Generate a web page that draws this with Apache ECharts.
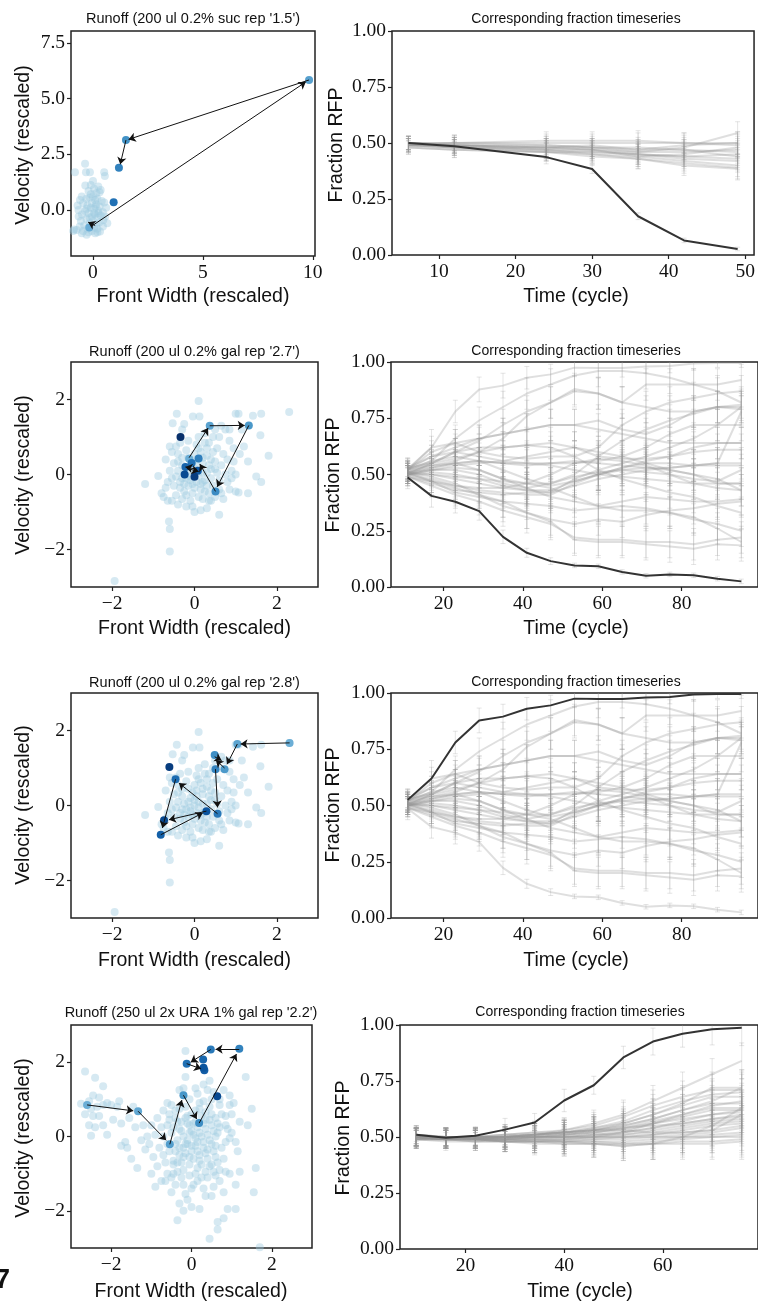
<!DOCTYPE html>
<html>
<head>
<meta charset="utf-8">
<script src="https://cdn.jsdelivr.net/npm/echarts@6/dist/echarts.min.js"></script>
<style>
html,body{margin:0;padding:0;background:#fff;}
#c{width:758px;height:1305px;}
</style>
</head>
<body>
<div id="c"></div>
<script>
// ---------------- DATA ----------------
// Row 1: sucrose run
const sucBg = [
[-0.82,1.69],[-0.36,2.08],[-0.32,1.69],[-0.14,1.69],[0.51,1.69],[0.54,1.52],[-0.1,1.12],[0.24,1.05],[0.05,0.95],[-0.2,0.85],[0.3,0.8],[-0.51,0.6],[-0.59,0.45],[0.51,0.33],[-0.66,0.0],[-0.65,-0.3],[-0.74,-0.9],[-0.86,-0.88],[-0.51,-1.05],[-0.29,-1.12],[0.32,-0.97],[0.47,-0.45],
[-0.3,0.5],[-0.15,0.55],[0.0,0.6],[0.1,0.45],[0.2,0.5],[-0.05,0.3],[0.15,0.25],[-0.25,0.2],[0.3,0.15],[-0.1,0.1],[0.05,0.05],[0.25,-0.05],[-0.35,-0.05],[-0.2,-0.15],[0.1,-0.2],[0.35,-0.25],[-0.05,-0.3],[0.2,-0.35],[-0.3,-0.4],[0.0,-0.5],[0.3,-0.55],[-0.15,-0.6],[0.15,-0.65],[-0.4,-0.7],[0.05,-0.8],[-0.25,-0.85],[0.2,-0.85],[-0.05,-0.95],[-0.45,-0.95],[0.1,-1.05],[-0.6,-0.75],[0.45,-0.75],[0.55,-0.3],[0.4,0.4],[-0.45,0.3],[-0.5,-0.2],[0.6,0.1],[-0.9,-0.95],[-0.7,0.2],[0.35,0.9],[-0.35,1.1],[0.0,1.3],[0.15,0.75],[-0.1,0.7],[0.25,-0.15],[-0.15,-0.35],[0.45,-0.1],[0.05,-0.15],[-0.3,0.05],[0.12,0.15],[-0.55,-0.5],[0.2,-1.0],[-0.2,-1.0],[0.65,-0.6]
];
const sucTraj = [[-0.17,-0.79],[9.83,5.84],[1.5,3.14],[1.18,1.9],[0.94,0.34]];
const sucArrows = [[-0.05,-0.72,9.68,5.75],[9.83,5.84,1.62,3.17],[1.5,3.14,1.24,2.05],[0.1,-0.7,-0.22,-0.55]];
const sucTimes = [6,12,24,30,36,42,49];
const sucDark = [0.50,0.485,0.437,0.384,0.173,0.065,0.027];
const sucDarkErr = [0.03,0.03,0.03,0.02,0.015,0.01,0.008];
const sucGray = [
[0.50,0.49,0.48,0.48,0.47,0.47,0.46],
[0.49,0.48,0.47,0.46,0.45,0.44,0.43],
[0.50,0.50,0.50,0.50,0.50,0.50,0.50],
[0.49,0.49,0.49,0.48,0.46,0.46,0.47],
[0.48,0.47,0.46,0.45,0.44,0.42,0.40],
[0.50,0.49,0.48,0.47,0.44,0.45,0.48],
[0.49,0.48,0.46,0.44,0.43,0.40,0.385],
[0.50,0.50,0.51,0.51,0.51,0.50,0.49],
[0.49,0.48,0.48,0.47,0.46,0.48,0.545],
[0.50,0.49,0.47,0.47,0.45,0.44,0.45],
[0.48,0.47,0.46,0.46,0.45,0.43,0.42],
[0.49,0.49,0.48,0.49,0.47,0.49,0.50],
[0.50,0.48,0.47,0.45,0.43,0.41,0.39],
[0.49,0.50,0.49,0.48,0.48,0.47,0.44]
];
const sucGrayErr = [0.03,0.035,0.04,0.04,0.045,0.045,0.05];

// Rows 2 & 3: galactose run (shared ensemble)
const galBg = [
[-1.94,-2.84],[2.3,1.67],[0.1,1.96],[-0.43,1.62],[-0.53,1.37],[-0.04,1.55],[0.12,1.55],[1.0,1.62],[1.07,1.62],[1.42,1.57],[1.62,1.62],[0.65,1.3],[0.75,1.2],[0.85,1.2],[1.6,1.05],[1.8,0.5],[1.3,0.35],[1.1,0.55],[1.2,0.75],[0.95,0.7],[-1.2,-0.25],[-0.6,-1.45],[-0.62,-1.25],[-0.6,-2.05],[0.6,-1.07],[1.5,-0.05],[1.62,-0.2],[1.0,-0.45],[1.07,-0.48],[1.0,0.0],[-0.88,-0.04],[-0.65,-0.7],[-0.8,-0.5],[-0.7,-0.35],[-0.45,0.75],[-0.55,0.6],[-0.6,0.75],[-0.7,0.4],[-0.3,1.2],[0.25,1.1],[0.45,1.0],[0.55,0.7],[0.8,0.4],[0.9,0.1],[0.8,-0.2],[0.7,-0.65],[0.3,-0.9],[0.0,-1.0],[0.15,-0.95],[-0.2,-0.85],[-0.4,-0.8],[0.4,-0.7],[0.85,0.9],[0.6,1.0],[0.35,0.85],
[-0.5,0.3],[-0.4,0.1],[-0.35,-0.2],[-0.3,0.45],[-0.25,-0.45],[-0.2,0.65],[-0.15,-0.3],[-0.1,0.2],[-0.05,-0.5],[0.0,0.55],[0.05,-0.2],[0.1,0.1],[0.15,-0.4],[0.2,0.3],[0.25,-0.15],[0.3,0.5],[0.35,-0.5],[0.4,0.15],[0.45,-0.3],[0.5,0.35],[-0.45,-0.55],[-0.55,-0.1],[-0.6,0.1],[-0.15,0.9],[0.05,0.8],[0.2,-0.65],[-0.1,-0.7],[-0.3,-0.65],[0.3,-0.3],[0.55,0.05],[-0.25,0.05],[0.0,0.0],[-0.05,0.35],[0.15,0.6],[-0.4,0.55],[0.35,0.25],[-0.2,-0.1],[0.1,-0.6],[0.25,-0.45],[-0.35,-0.35],[0.45,0.6],[-0.5,-0.3],[0.6,-0.4],[0.65,0.25],[0.7,0.55],[-0.65,-0.2],[-0.1,-0.15],[0.05,0.4],[-0.3,0.25],[0.2,0.05],[-0.15,0.45],[0.4,-0.1],[0.0,-0.35],[-0.2,-0.55],[0.15,-0.25],[-0.45,-0.05],[0.3,0.7],[0.5,-0.6],[-0.05,-0.85],[0.25,0.85],[-0.35,0.85],[0.1,1.0],[0.4,0.4],[-0.25,-0.25],[0.6,-0.15],[0.75,0.0],[0.85,-0.4],[-0.75,-0.6],[-0.55,-0.7],[0.0,0.15],[-0.1,-0.05],[0.1,-0.05],[0.2,-0.2],[0.3,0.05],[-0.15,0.1],[-0.05,-0.25],[0.05,0.25],[0.2,0.45],[-0.3,-0.1],[0.35,-0.7],[0.1,0.7],[-0.4,0.35],[0.5,0.15],[0.65,-0.5],[0.95,0.35],[1.3,-0.5],[1.15,1.2],[0.5,1.2],[-0.25,1.35],[0.9,-0.1]
];
const galTraj27 = [[-0.13,0.42],[0.37,1.3],[1.32,1.31],[0.51,-0.45],[0.1,0.43],[-0.07,0.31],[-0.22,0.2],[0.08,0.1],[-0.24,0.0],[0.0,-0.06],[-0.34,1.0]];
const galArrows27 = [[-0.13,0.45,0.33,1.24],[0.37,1.3,1.22,1.31],[1.32,1.31,0.55,-0.33],[0.51,-0.45,0.13,0.28],[0.06,0.14,-0.22,0.2],[-0.18,0.16,0.1,0.08]];
const galTraj28 = [[2.31,1.67],[1.04,1.64],[0.73,0.97],[0.49,1.35],[0.51,0.97],[0.56,-0.22],[-0.46,0.7],[-0.82,-0.78],[0.29,-0.15],[-0.74,-0.39],[-0.61,1.03]];
const galArrows28 = [[2.31,1.67,1.12,1.64],[1.04,1.64,0.79,1.1],[0.73,1.0,0.52,1.21],[0.49,1.3,0.66,1.2],[0.51,0.97,0.56,-0.05],[0.56,-0.22,-0.38,0.6],[-0.46,0.7,-0.78,-0.6],[-0.82,-0.78,0.2,-0.2],[0.29,-0.15,-0.62,-0.38]];
const galTimes = [11,17,23,29,35,41,47,53,59,65,71,77,83,89,95];
const galDown = [0.487,0.405,0.379,0.337,0.223,0.152,0.115,0.096,0.092,0.067,0.05,0.056,0.052,0.037,0.025];
const galDownErr = [0.05,0.05,0.05,0.04,0.03,0.02,0.015,0.01,0.01,0.01,0.01,0.01,0.01,0.01,0.01];
const galUp = [0.525,0.62,0.78,0.878,0.895,0.93,0.945,0.975,0.973,0.973,0.98,0.982,0.993,0.996,0.996];
const galUpErr = [0.05,0.08,0.05,0.055,0.055,0.05,0.045,0.04,0.04,0.04,0.03,0.03,0.03,0.02,0.02];
const galGray = [
[0.52,0.56,0.66,0.74,0.80,0.86,0.90,0.94,0.96,0.96,0.95,0.93,0.90,0.87,0.82],
[0.51,0.55,0.60,0.65,0.72,0.78,0.82,0.88,0.86,0.82,0.90,0.90,0.90,0.90,0.92],
[0.53,0.58,0.62,0.66,0.68,0.70,0.72,0.72,0.74,0.70,0.68,0.72,0.78,0.80,0.80],
[0.50,0.55,0.60,0.62,0.62,0.63,0.64,0.62,0.58,0.57,0.57,0.58,0.62,0.64,0.64],
[0.52,0.62,0.64,0.60,0.58,0.57,0.58,0.58,0.62,0.72,0.78,0.82,0.84,0.86,0.87],
[0.51,0.53,0.55,0.56,0.55,0.54,0.55,0.55,0.56,0.58,0.62,0.68,0.72,0.72,0.72],
[0.50,0.50,0.48,0.46,0.44,0.43,0.43,0.47,0.50,0.52,0.53,0.53,0.54,0.54,0.54],
[0.50,0.48,0.45,0.43,0.42,0.41,0.41,0.46,0.50,0.53,0.55,0.55,0.54,0.55,0.55],
[0.49,0.46,0.43,0.42,0.41,0.42,0.42,0.48,0.52,0.55,0.58,0.62,0.66,0.72,0.80],
[0.52,0.54,0.55,0.56,0.55,0.55,0.54,0.52,0.50,0.49,0.48,0.47,0.46,0.46,0.46],
[0.50,0.52,0.53,0.52,0.48,0.44,0.40,0.38,0.36,0.38,0.40,0.39,0.38,0.38,0.39],
[0.51,0.47,0.42,0.40,0.38,0.37,0.36,0.34,0.35,0.36,0.35,0.33,0.31,0.26,0.20],
[0.49,0.45,0.41,0.38,0.34,0.31,0.28,0.22,0.21,0.21,0.20,0.20,0.19,0.21,0.22],
[0.50,0.47,0.44,0.41,0.36,0.33,0.30,0.28,0.30,0.29,0.32,0.34,0.35,0.37,0.38],
[0.51,0.49,0.46,0.41,0.38,0.33,0.29,0.21,0.20,0.20,0.19,0.18,0.17,0.19,0.185],
[0.52,0.58,0.60,0.58,0.56,0.55,0.55,0.56,0.55,0.54,0.53,0.52,0.50,0.48,0.43],
[0.51,0.54,0.56,0.60,0.62,0.63,0.62,0.58,0.52,0.48,0.45,0.42,0.40,0.36,0.33],
[0.50,0.52,0.52,0.50,0.46,0.44,0.46,0.50,0.58,0.65,0.70,0.74,0.77,0.80,0.81],
[0.52,0.56,0.58,0.56,0.52,0.48,0.45,0.47,0.50,0.53,0.56,0.58,0.60,0.61,0.61],
[0.50,0.51,0.50,0.48,0.45,0.43,0.42,0.45,0.48,0.50,0.52,0.53,0.54,0.55,0.78],
[0.51,0.50,0.49,0.48,0.47,0.46,0.46,0.49,0.51,0.52,0.51,0.50,0.48,0.47,0.52],
[0.49,0.47,0.45,0.44,0.44,0.46,0.50,0.55,0.57,0.56,0.54,0.50,0.46,0.44,0.43],
[0.52,0.60,0.64,0.66,0.68,0.70,0.72,0.72,0.70,0.68,0.66,0.64,0.64,0.64,0.64],
[0.53,0.55,0.57,0.60,0.66,0.76,0.82,0.87,0.86,0.82,0.80,0.78,0.78,0.80,0.79],
[0.50,0.53,0.55,0.52,0.48,0.46,0.44,0.40,0.36,0.34,0.34,0.33,0.30,0.28,0.25],
[0.51,0.52,0.54,0.55,0.56,0.58,0.60,0.62,0.60,0.58,0.55,0.52,0.50,0.46,0.46]
];
const galGrayErr = [0.04,0.05,0.06,0.06,0.07,0.07,0.07,0.07,0.07,0.07,0.07,0.07,0.07,0.07,0.07];

// Row 4: URA run
const uraBg = [
[-2.65,1.75],[-2.4,1.58],[-2.2,1.35],[-2.45,1.1],[-2.3,1.05],[-2.55,0.95],[-2.75,0.88],[-2.5,0.75],[-2.35,0.8],[-2.2,0.85],[-2.1,0.9],[-2.0,0.85],[-1.85,0.8],[-2.65,0.6],[-2.45,0.55],[-2.3,0.55],[-2.55,0.3],[-2.4,0.25],[-2.2,0.3],[-2.1,0.05],[-2.5,0.02],[-1.75,0.35],[-1.95,0.45],[-1.65,-0.15],[-1.75,-0.25],[-1.8,0.95],[-1.55,0.5],[-1.45,0.8],[-1.4,0.25],[-1.25,-0.1],[-1.5,-0.6],[-1.6,-0.3],[-1.35,-0.85],[-1.2,0.3],[-1.1,0.0],[-1.15,-0.35],[-1.0,0.3],[-0.95,-0.55],[-1.05,-0.2],[-0.85,0.5],[-0.9,0.05],[-0.8,-0.3],[-1.0,-1.0],[-0.85,-0.8],[-0.75,-1.2],[-0.9,-1.35],[-0.7,0.7],[-0.6,0.9],[-0.55,0.45],[-0.45,-0.65],[-0.6,-1.0],[-0.5,-1.5],[-0.4,-1.3],[-0.3,-1.8],[-0.35,-2.25],[-0.15,-1.55],[0.0,-1.4],
[-0.15,2.3],[-0.15,1.6],[0.45,1.5],[1.35,1.6],[0.3,1.4],[0.1,1.3],[-0.3,1.25],[0.55,1.2],[0.8,1.25],[0.95,1.1],[1.05,0.9],[1.5,0.75],[0.7,0.85],[-0.5,0.85],[-0.4,0.7],[0.2,0.9],[0.45,0.8],[0.85,0.55],[1.0,0.6],[1.4,0.3],[0.9,0.2],[1.1,-0.15],[0.95,-0.05],[1.15,-0.4],[1.2,-0.95],[1.55,-1.5],[1.6,-0.85],[0.95,-1.0],[1.1,-1.3],[0.8,-1.5],[0.9,-1.95],[1.1,-1.95],[0.8,-2.2],[0.65,-2.3],[0.65,-2.5],[0.45,-2.75],[1.7,-2.98],[0.2,-1.95],[0.0,-1.9],[-0.2,-2.0],[0.35,-1.6],[0.55,-1.35],[0.6,-1.05],[0.4,-1.1],[0.15,-1.2],[-0.05,-1.05],[-0.25,-1.1],[-0.2,-0.9],
[-0.6,0.3],[-0.5,0.1],[-0.4,-0.2],[-0.35,0.4],[-0.3,-0.5],[-0.25,0.15],[-0.2,-0.3],[-0.15,0.5],[-0.1,-0.1],[-0.05,0.3],[0.0,-0.4],[0.05,0.05],[0.1,-0.25],[0.15,0.25],[0.2,-0.5],[0.25,0.0],[0.3,-0.3],[0.35,0.2],[0.4,-0.6],[0.45,-0.1],[0.5,0.3],[0.55,-0.4],[0.6,0.0],[0.65,-0.7],[0.7,0.25],[0.75,-0.3],[-0.55,-0.4],[-0.45,-0.75],[-0.35,-0.1],[-0.25,-0.7],[-0.15,-0.45],[-0.05,-0.75],[0.05,-0.6],[0.15,-0.85],[0.25,-0.75],[0.35,-0.95],[0.45,-0.8],[0.55,-0.95],[-0.65,-0.7],[-0.7,0.0],[-0.75,0.25],[-0.55,0.6],[-0.4,0.5],[-0.3,0.75],[-0.15,0.8],[0.0,0.6],[0.1,0.7],[0.25,0.55],[0.35,0.65],[0.5,0.6],[0.6,0.5],[0.75,0.6],[0.85,0.3],[0.85,-0.15],[0.8,-0.6],[0.7,-0.9],[-0.2,0.0],[0.0,0.15],[0.2,0.1],[0.4,0.05],[-0.1,-0.2],[0.1,-0.05],[0.3,-0.15],[0.5,-0.2],[-0.3,0.2],[-0.1,0.35],[0.1,0.4],[0.3,0.35],[0.45,0.45],[0.15,-0.4],[0.35,-0.45],[-0.4,-0.4],[-0.2,-0.55],[0.0,-0.25],[0.6,-0.55],[0.55,0.15],[0.2,-0.65],[-0.05,-0.55],[-0.45,0.25],[0.65,0.35],[0.3,0.95],[0.5,1.0],[-0.05,1.0],[0.15,1.15],[-0.2,1.3],[0.4,1.25],[0.7,1.0],[0.95,0.85],[1.2,0.4],[1.0,0.1],[-0.65,-1.2],[-0.5,-1.1],[-0.35,-0.95],[0.05,-1.3],[0.3,-1.4],[0.5,-1.6],[-0.1,-1.7],[0.7,-1.2],[0.85,-0.95],
[-0.7,-0.5],[-0.6,-0.2],[-0.3,-0.3],[-0.1,0.55],[0.2,0.75],[0.4,-0.35],[0.65,0.1],[0.1,-1.0],[-0.2,-1.3],[0.25,-1.1],[-0.45,-1.0],[0.6,-0.25],[-0.05,0.1],[0.15,-0.15],[0.35,0.45],[-0.25,0.4],[0.05,0.35],[0.5,-0.75],[-0.15,-0.2],[-0.35,-0.7]
];
const uraTraj = [[-2.6,0.85],[-1.33,0.68],[-0.54,-0.21],[-0.2,1.11],[0.19,0.36],[1.19,2.36],[0.48,2.34],[-0.12,1.96],[0.29,2.07],[0.32,1.78],[0.3,1.85],[0.64,1.08]];
const uraArrows = [[-2.6,0.85,-1.45,0.69],[-1.33,0.68,-0.63,-0.1],[-0.54,-0.21,-0.24,0.98],[-0.2,1.11,0.13,0.47],[0.19,0.36,1.12,2.22],[1.19,2.36,0.6,2.35],[0.48,2.34,-0.02,2.0],[-0.12,1.96,0.24,1.82]];
const uraTimes = [10,16,22,28,34,40,46,52,58,64,70,76];
const uraDark = [0.51,0.497,0.506,0.533,0.565,0.663,0.731,0.855,0.926,0.961,0.981,0.988];
const uraDarkErr = [0.03,0.04,0.04,0.05,0.04,0.05,0.04,0.05,0.06,0.06,0.07,0.08];
const uraGray = [
[0.50,0.49,0.49,0.50,0.51,0.53,0.56,0.60,0.66,0.72,0.78,0.84],
[0.50,0.50,0.50,0.51,0.52,0.53,0.55,0.59,0.64,0.68,0.71,0.71],
[0.49,0.49,0.50,0.50,0.51,0.52,0.54,0.57,0.62,0.66,0.69,0.70],
[0.51,0.50,0.50,0.51,0.51,0.52,0.53,0.56,0.60,0.64,0.68,0.68],
[0.50,0.49,0.49,0.50,0.50,0.51,0.53,0.55,0.58,0.62,0.65,0.65],
[0.49,0.50,0.50,0.49,0.50,0.51,0.52,0.54,0.57,0.60,0.63,0.63],
[0.50,0.50,0.49,0.50,0.51,0.51,0.52,0.53,0.56,0.59,0.62,0.62],
[0.51,0.49,0.50,0.50,0.50,0.50,0.51,0.52,0.54,0.57,0.60,0.61],
[0.50,0.49,0.49,0.49,0.50,0.50,0.51,0.52,0.54,0.56,0.58,0.59],
[0.49,0.49,0.48,0.49,0.49,0.50,0.50,0.51,0.53,0.55,0.57,0.58],
[0.50,0.50,0.50,0.50,0.50,0.50,0.51,0.51,0.52,0.54,0.56,0.57],
[0.50,0.49,0.49,0.49,0.49,0.49,0.50,0.50,0.51,0.53,0.55,0.56],
[0.49,0.49,0.49,0.48,0.49,0.49,0.49,0.50,0.51,0.52,0.53,0.55],
[0.50,0.50,0.49,0.49,0.49,0.48,0.49,0.49,0.50,0.51,0.52,0.54],
[0.50,0.49,0.49,0.49,0.48,0.48,0.48,0.48,0.49,0.50,0.51,0.52],
[0.49,0.49,0.48,0.48,0.48,0.48,0.48,0.47,0.48,0.49,0.50,0.51],
[0.50,0.49,0.49,0.48,0.48,0.47,0.47,0.47,0.47,0.48,0.48,0.49],
[0.50,0.50,0.49,0.48,0.47,0.47,0.47,0.46,0.47,0.47,0.47,0.48],
[0.51,0.50,0.50,0.50,0.51,0.52,0.53,0.54,0.55,0.56,0.58,0.60],
[0.50,0.50,0.50,0.50,0.51,0.52,0.53,0.55,0.58,0.62,0.66,0.72],
[0.50,0.49,0.50,0.51,0.52,0.52,0.53,0.53,0.52,0.52,0.53,0.60],
[0.49,0.49,0.49,0.48,0.48,0.48,0.47,0.46,0.47,0.50,0.55,0.63],
[0.50,0.50,0.50,0.50,0.50,0.51,0.52,0.54,0.56,0.58,0.60,0.62],
[0.51,0.50,0.50,0.50,0.51,0.52,0.54,0.56,0.60,0.65,0.72,0.72],
[0.50,0.50,0.49,0.49,0.50,0.50,0.50,0.50,0.50,0.50,0.50,0.50],
[0.49,0.48,0.48,0.48,0.48,0.49,0.50,0.52,0.56,0.60,0.64,0.66]
];
const uraGrayErr = [0.04,0.04,0.04,0.045,0.05,0.055,0.06,0.065,0.07,0.07,0.07,0.08];

// Tick values
const sucXTicks = [0,5,10], sucYTicks = [0,2.5,5,7.5];
const stdTicks = [-2,0,2];
const fracTicks = [0,0.25,0.5,0.75,1];
const sucTimeTicks = [10,20,30,40,50];
const galTimeTicks = [20,40,60,80];
const uraTimeTicks = [20,40,60];

// Text
const titles = ["Runoff (200 ul 0.2% suc rep '1.5')","Runoff (200 ul 0.2% gal rep '2.7')","Runoff (200 ul 0.2% gal rep '2.8')","Runoff (250 ul 2x URA 1% gal rep '2.2')"];
const tsTitle = "Corresponding fraction timeseries";

// ---------------- RENDER ----------------
const SERIF = "'Liberation Serif','DejaVu Serif',serif";
const SANS = "'Liberation Sans','DejaVu Sans',sans-serif";
const grids = [
  {left:71, top:31, width:244, height:225},
  {left:392, top:31, width:367, height:224},
  {left:71, top:362, width:247, height:225},
  {left:391, top:362, width:369, height:225},
  {left:71, top:693, width:247, height:225},
  {left:391, top:693, width:369, height:225},
  {left:71, top:1025, width:241, height:223},
  {left:400, top:1025, width:359, height:224}
].map(g => Object.assign({show:true, borderColor:'#222', borderWidth:1.5, backgroundColor:'transparent'}, g));

const minus = s => s.replace('-', '\u2212');
const fmt0 = v => minus(String(Math.round(v)));
const fmt1 = v => minus(v.toFixed(1));
const fmt2 = v => v.toFixed(2);

function axis(gi, min, max, ticks, fmt) {
  return {
    type:'value', gridIndex:gi, min, max,
    axisLine:{show:false, onZero:false}, splitLine:{show:false},
    axisTick:{show:true, customValues:ticks, length:4, inside:false, lineStyle:{color:'#222', width:1.2}},
    axisLabel:{customValues:ticks, formatter:fmt, margin:7, fontFamily:SERIF, fontSize:19.5, color:'#111'}
  };
}
const xAxes = [
  axis(0,-1.0,10.1,sucXTicks,fmt0),
  axis(1,3.85,51.15,sucTimeTicks,fmt0),
  axis(2,-3,3,stdTicks,fmt0),
  axis(3,6.8,99.2,galTimeTicks,fmt0),
  axis(4,-3,3,stdTicks,fmt0),
  axis(5,6.8,99.2,galTimeTicks,fmt0),
  axis(6,-3,3,stdTicks,fmt0),
  axis(7,6.7,79.3,uraTimeTicks,fmt0)
];
const yAxes = [
  axis(0,-2.07,8.04,sucYTicks,fmt1),
  axis(1,0,1,fracTicks,fmt2),
  axis(2,-3,3,stdTicks,fmt0),
  axis(3,0,1,fracTicks,fmt2),
  axis(4,-3,3,stdTicks,fmt0),
  axis(5,0,1,fracTicks,fmt2),
  axis(6,-3,3,stdTicks,fmt0),
  axis(7,0,1,fracTicks,fmt2)
];
yAxes.forEach(a => { a.axisLabel.margin = 6; });

// Blues colormap
const bluesStops = ['#f7fbff','#deebf7','#c6dbef','#9ecae1','#6baed6','#4292c6','#2171b5','#08519c','#08306b'];
function hex2rgb(h){return [parseInt(h.slice(1,3),16),parseInt(h.slice(3,5),16),parseInt(h.slice(5,7),16)];}
function blues(f){
  const p = f*(bluesStops.length-1); const i = Math.min(Math.floor(p), bluesStops.length-2); const t = p-i;
  const a = hex2rgb(bluesStops[i]), b = hex2rgb(bluesStops[i+1]);
  return 'rgb(' + a.map((v,k)=>Math.round(v+(b[k]-v)*t)).join(',') + ')';
}

const series = [];
function scatterPanel(gi, bg, traj, arrows, f0, f1) {
  series.push({type:'scatter', xAxisIndex:gi, yAxisIndex:gi, data:bg, symbolSize:8,
    itemStyle:{color:'#9ecae1', opacity:0.42}, silent:true, z:2});
  series.push({type:'scatter', xAxisIndex:gi, yAxisIndex:gi, symbolSize:8, silent:true, z:3,
    data: traj.map((p,i)=>({value:p, itemStyle:{color:blues(f0+(f1-f0)*i/(traj.length-1)), opacity:1}}))});
  series.push({type:'lines', coordinateSystem:'cartesian2d', xAxisIndex:gi, yAxisIndex:gi, silent:true, z:4,
    symbol:['none','arrow'], symbolSize:7,
    lineStyle:{color:'#111', width:1, opacity:1},
    data: arrows.map(a=>({coords:[[a[0],a[1]],[a[2],a[3]]]}))});
}
const GRAY = 'rgba(150,150,150,0.3)';
const ERRGRAY = 'rgba(150,150,150,0.25)';
function errSeries(gi, items, z) {
  return {type:'custom', xAxisIndex:gi, yAxisIndex:gi, clip:true, silent:true, z:z,
    renderItem:(params, api)=>{
      const x=api.value(0), lo=api.value(1), hi=api.value(2);
      const a=api.coord([x,lo]), b=api.coord([x,hi]); const c=2.5;
      const st={stroke:ERRGRAY, lineWidth:1};
      return {type:'group', children:[
        {type:'line', shape:{x1:a[0],y1:a[1],x2:b[0],y2:b[1]}, style:st},
        {type:'line', shape:{x1:a[0]-c,y1:a[1],x2:a[0]+c,y2:a[1]}, style:st},
        {type:'line', shape:{x1:b[0]-c,y1:b[1],x2:b[0]+c,y2:b[1]}, style:st}
      ]};
    },
    encode:{x:0, y:[1,2]}, data:items};
}
function tsPanel(gi, times, grayLines, grayErr, extraGray, dark, darkErr) {
  const errItems = [];
  const all = grayLines.map(v=>({v, e:grayErr})).concat(extraGray);
  all.forEach(L => {
    series.push({type:'line', xAxisIndex:gi, yAxisIndex:gi, data:times.map((t,i)=>[t,L.v[i]]),
      symbol:'none', silent:true, z:3, lineStyle:{color:GRAY, width:2}});
    times.forEach((t,i)=>errItems.push([t, L.v[i]-L.e[i], L.v[i]+L.e[i]]));
  });
  times.forEach((t,i)=>errItems.push([t, dark[i]-darkErr[i], dark[i]+darkErr[i]]));
  series.push(errSeries(gi, errItems, 2));
  series.push({type:'line', xAxisIndex:gi, yAxisIndex:gi, data:times.map((t,i)=>[t,dark[i]]),
    symbol:'none', silent:true, z:6, lineStyle:{color:'#333', width:2}});
}

scatterPanel(0, sucBg, sucTraj, sucArrows, 0.5, 0.75);
tsPanel(1, sucTimes, sucGray, sucGrayErr, [], sucDark, sucDarkErr);
scatterPanel(2, galBg, galTraj27, galArrows27, 0.5, 1.0);
tsPanel(3, galTimes, galGray, galGrayErr, [{v:galUp, e:galUpErr}], galDown, galDownErr);
scatterPanel(4, galBg, galTraj28, galArrows28, 0.5, 0.95);
tsPanel(5, galTimes, galGray, galGrayErr, [{v:galDown, e:galDownErr}], galUp, galUpErr);
scatterPanel(6, uraBg, uraTraj, uraArrows, 0.5, 0.9);
tsPanel(7, uraTimes, uraGray, uraGrayErr, [], uraDark, uraDarkErr);

// Text layout
const rowTitleY = [19, 351.5, 682.5, 1012.5];
const rowXLabelY = [297, 629, 961, 1292];
const rowYLabelY = [145, 475, 805, 1138];
const scatterCx = [193, 194.5, 194.5, 191];
const tsCx = [576, 576, 576, 580];
const tsYLabelX = [336.5, 333.5, 333.5, 343.5];
const graphics = [];
function txt(x, y, text, size, rot, extra) {
  return Object.assign({type:'text', x, y, rotation: rot||0, silent:true,
    style:{text, fontFamily:SANS, fontSize:size, fill:'#111', align:'center', verticalAlign:'middle'}}, extra||{});
}
for (let r=0;r<4;r++){
  graphics.push(txt(scatterCx[r], rowTitleY[r], titles[r], 14.5));
  graphics.push(txt(tsCx[r], rowTitleY[r], tsTitle, 14));
  graphics.push(txt(scatterCx[r], rowXLabelY[r], 'Front Width (rescaled)', 19.5));
  graphics.push(txt(tsCx[r], rowXLabelY[r], 'Time (cycle)', 19.5));
  graphics.push(txt(23.5, rowYLabelY[r], 'Velocity (rescaled)', 19.5, Math.PI/2));
  graphics.push(txt(tsYLabelX[r], rowYLabelY[r], 'Fraction RFP', 19.5, Math.PI/2));
}
graphics.push({type:'text', x:10, y:1281, silent:true, style:{text:'7', fontFamily:SANS, fontSize:27, fontWeight:'bold', fill:'#111', align:'right', verticalAlign:'middle'}});

const chart = echarts.init(document.getElementById('c'), null, {renderer:'canvas'});
chart.setOption({
  animation:false, backgroundColor:'#fff',
  grid:grids, xAxis:xAxes, yAxis:yAxes, series, graphic:graphics
});
</script>
</body>
</html>
